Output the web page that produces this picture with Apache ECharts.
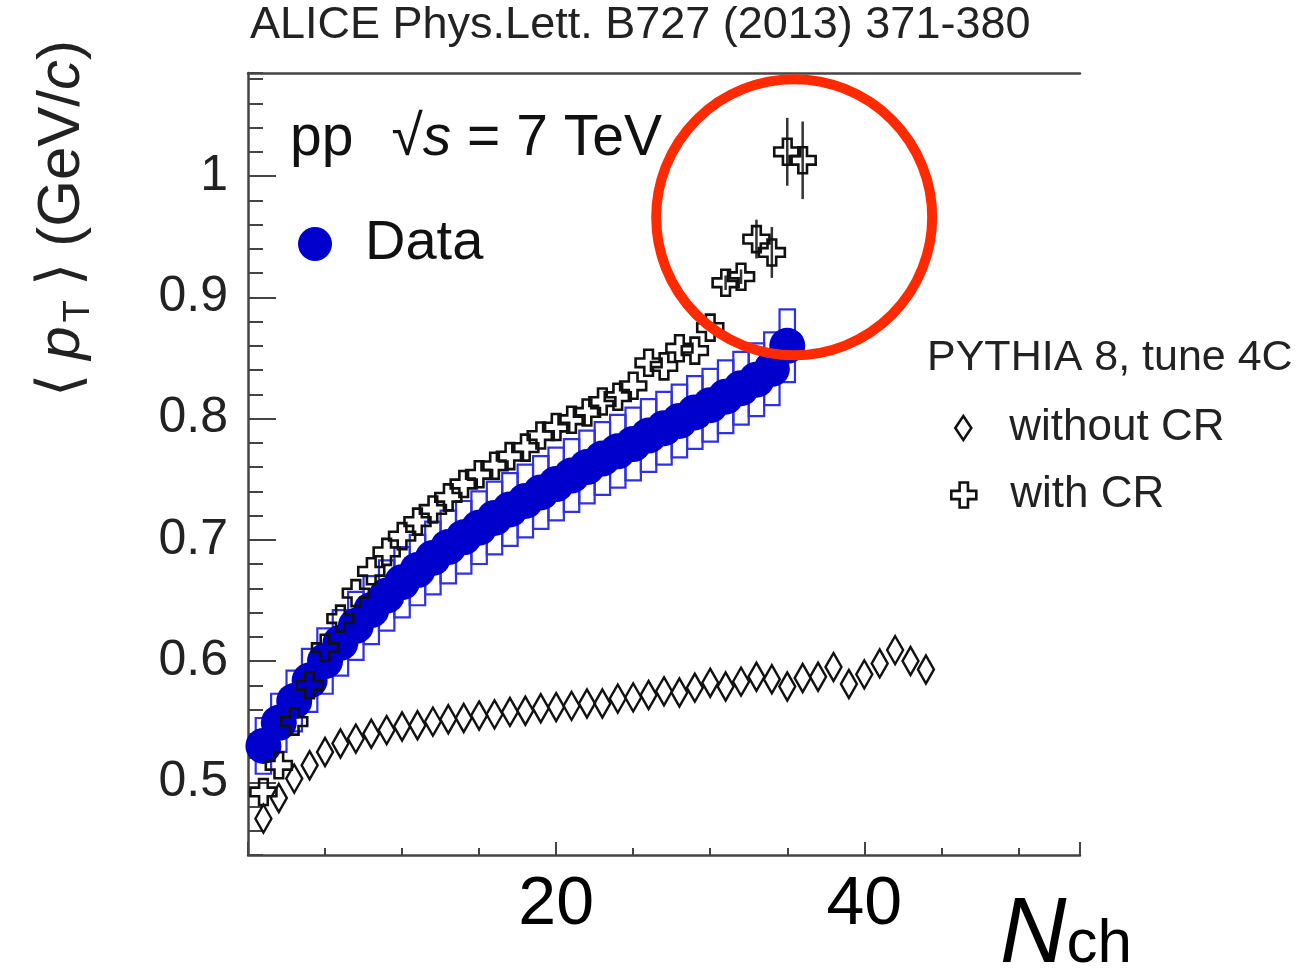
<!DOCTYPE html>
<html>
<head>
<meta charset="utf-8">
<script src="https://cdn.jsdelivr.net/npm/echarts@6/dist/echarts.min.js"></script>
<style>
html,body{margin:0;padding:0;background:#fff;}
#chart{width:1304px;height:975px;}
</style>
</head>
<body>
<div id="chart"></div>
<script>
// ---------------- data ----------------
const titleText = 'ALICE Phys.Lett. B727 (2013) 371-380';
const xTickLabels = [20, 40];

// ALICE data (blue dots) : Nch = 1..35
const dataNch = [1,2,3,4,5,6,7,8,9,10,11,12,13,14,15,16,17,18,19,20,21,22,23,24,25,26,27,28,29,30,31,32,33,34,35];
const dataMeanPt = [0.530,0.549,0.567,0.584,0.600,0.615,0.629,0.642,0.654,0.665,0.675,0.685,0.694,0.702,0.710,0.718,0.725,0.732,0.739,0.746,0.753,0.760,0.767,0.773,0.779,0.786,0.792,0.798,0.805,0.811,0.818,0.825,0.832,0.841,0.860];
const dataSys = [0.023,0.024,0.025,0.026,0.027,0.027,0.028,0.028,0.029,0.029,0.029,0.030,0.030,0.030,0.030,0.030,0.030,0.030,0.030,0.030,0.030,0.030,0.030,0.030,0.030,0.030,0.030,0.030,0.030,0.030,0.030,0.030,0.030,0.030,0.030];

// PYTHIA 8 tune 4C without colour reconnection (diamonds) : Nch = 1..44
const noCrNch = [1,2,3,4,5,6,7,8,9,10,11,12,13,14,15,16,17,18,19,20,21,22,23,24,25,26,27,28,29,30,31,32,33,34,35,36,37,38,39,40,41,42,43,44];
const noCrMeanPt = [0.470,0.487,0.503,0.514,0.525,0.532,0.536,0.540,0.543,0.546,0.547,0.550,0.552,0.553,0.555,0.556,0.558,0.559,0.561,0.562,0.563,0.565,0.565,0.569,0.570,0.572,0.575,0.574,0.578,0.582,0.579,0.583,0.587,0.585,0.579,0.586,0.587,0.595,0.581,0.589,0.598,0.609,0.600,0.593];

// PYTHIA 8 tune 4C with colour reconnection (crosses) : Nch = 1..36
const crNch = [1,2,3,4,5,6,7,8,9,10,11,12,13,14,15,16,17,18,19,20,21,22,23,24,25,26,27,28,29,30,31,32,33,34,35,36];
const crMeanPt = [0.492,0.514,0.550,0.580,0.611,0.635,0.656,0.674,0.690,0.703,0.715,0.725,0.735,0.746,0.754,0.761,0.769,0.776,0.786,0.793,0.799,0.805,0.814,0.818,0.827,0.846,0.843,0.858,0.856,0.875,0.912,0.917,0.948,0.937,1.020,1.013];
const crErr = [0,0,0,0,0,0,0,0,0,0,0,0,0,0,0,0,0,0,0,0,0,0,0,0,0,0,0,0,0,0,0.006,0.006,0.016,0.021,0.028,0.032];

// annotation (red hand-drawn circle) anchor in data coordinates
const circleCenter = [35.45, 0.966];

// ---------------- chart ----------------
const FONT = 'Liberation Sans, Arial, Helvetica, sans-serif';
const AX = '#444';
const chart = echarts.init(document.getElementById('chart'), null, {renderer: 'canvas'});

const crossPath = 'path://M8,0H16V8H24V16H16V24H8V16H0V8H8Z';
const hollow = {color: 'rgba(0,0,0,0)', borderColor: '#111', borderWidth: 2.6, opacity: 1};

const boxData = dataNch.map((n, i) => [n, dataMeanPt[i], dataSys[i]]);
const crErrData = crNch.map((n, i) => [n, crMeanPt[i], crErr[i]]).filter(d => d[2] > 0);

const option = {
  animation: false,
  backgroundColor: '#fff',
  textStyle: {fontFamily: FONT},
  title: {
    text: titleText, left: 250, top: 3, padding: 0,
    textStyle: {fontFamily: FONT, fontSize: 45, fontWeight: 'normal', color: '#222'}
  },
  grid: {left: 248, right: 224, top: 73, bottom: 120, containLabel: false},
  legend: [
    {
      data: [{name: 'Data', icon: 'circle', itemStyle: {color: '#0000cc', opacity: 1}}],
      left: 298, top: 214, padding: 0,
      itemWidth: 34, itemHeight: 34,
      textStyle: {fontFamily: FONT, fontSize: 56, color: '#111', lineHeight: 60, padding: [0, 0, 0, 28]}
    },
    {
      data: [{name: 'without CR', icon: 'diamond', itemStyle: hollow}],
      left: 954, top: 403, padding: 0,
      itemWidth: 16, itemHeight: 24,
      textStyle: {fontFamily: FONT, fontSize: 44, color: '#222', lineHeight: 50, padding: [0, 0, 0, 33]}
    },
    {
      data: [{name: 'with CR', icon: crossPath, itemStyle: hollow}],
      left: 950, top: 470, padding: 0,
      itemWidth: 25, itemHeight: 25,
      textStyle: {fontFamily: FONT, fontSize: 44, color: '#222', lineHeight: 50, padding: [0, 0, 0, 29]}
    }
  ],
  xAxis: [
    {
      type: 'value', min: 0, max: 54, interval: 20, position: 'bottom',
      axisLine: {show: true, lineStyle: {color: AX, width: 2.5}},
      axisTick: {show: true, inside: true, length: 13, lineStyle: {color: AX, width: 2}},
      axisLabel: {
        show: true, margin: 16, fontSize: 68, color: '#000', fontFamily: FONT,
        formatter: v => (xTickLabels.indexOf(v) >= 0 ? String(v) : '')
      },
      splitLine: {show: false}
    },
    {
      type: 'value', min: 0, max: 54, interval: 5, position: 'bottom',
      axisLine: {show: false},
      axisTick: {show: true, inside: true, length: 7, lineStyle: {color: AX, width: 2}},
      axisLabel: {show: false}, splitLine: {show: false}
    },
    {
      type: 'value', min: 0, max: 54, position: 'top',
      axisLine: {show: true, lineStyle: {color: AX, width: 2.5}},
      axisTick: {show: false}, axisLabel: {show: false}, splitLine: {show: false}
    }
  ],
  yAxis: [
    {
      type: 'value', min: 0.44, max: 1.085, splitNumber: 5, position: 'left',
      axisLine: {show: true, lineStyle: {color: AX, width: 2.5}},
      axisTick: {show: true, inside: true, length: 28, lineStyle: {color: AX, width: 2}},
      axisLabel: {show: true, margin: 20, fontSize: 50, color: '#222', fontFamily: FONT,
                  showMinLabel: false, showMaxLabel: false},
      splitLine: {show: false}
    },
    {
      type: 'value', min: 0.44, max: 1.085, interval: 0.02, position: 'left',
      axisLine: {show: false},
      axisTick: {show: true, inside: true, length: 15, lineStyle: {color: AX, width: 2}},
      axisLabel: {show: false}, splitLine: {show: false}
    }
  ],
  series: [
    {
      name: 'sys', type: 'custom', xAxisIndex: 0, yAxisIndex: 0, z: 2,
      data: boxData,
      renderItem: (params, api) => {
        const x = api.value(0), y = api.value(1), e = api.value(2);
        const p0 = api.coord([x - 0.5, y + e]);
        const p1 = api.coord([x + 0.5, y - e]);
        return {
          type: 'rect',
          shape: {x: p0[0], y: p0[1], width: p1[0] - p0[0], height: p1[1] - p0[1]},
          style: {fill: 'none', stroke: '#3030e6', lineWidth: 2.2}
        };
      }
    },
    {
      name: 'Data', type: 'scatter', xAxisIndex: 0, yAxisIndex: 0, z: 3,
      symbol: 'circle', symbolSize: 36,
      itemStyle: {color: '#0000cc', opacity: 1},
      data: dataNch.map((n, i) => [n, dataMeanPt[i]])
    },
    {
      name: 'without CR', type: 'scatter', xAxisIndex: 0, yAxisIndex: 0, z: 4,
      symbol: 'diamond', symbolSize: [16, 28],
      itemStyle: hollow,
      data: noCrNch.map((n, i) => [n, noCrMeanPt[i]])
    },
    {
      name: 'crErr', type: 'custom', xAxisIndex: 0, yAxisIndex: 0, z: 5,
      data: crErrData,
      renderItem: (params, api) => {
        const x = api.value(0), y = api.value(1), e = api.value(2);
        const a = api.coord([x, y + e]);
        const b = api.coord([x, y - e]);
        return {type: 'line', shape: {x1: a[0], y1: a[1], x2: b[0], y2: b[1]},
                style: {stroke: '#333', lineWidth: 2.5}};
      }
    },
    {
      name: 'with CR', type: 'scatter', xAxisIndex: 0, yAxisIndex: 0, z: 6,
      symbol: crossPath, symbolSize: 26,
      itemStyle: hollow,
      data: crNch.map((n, i) => [n, crMeanPt[i]])
    }
  ]
};
chart.setOption(option);

const cc = chart.convertToPixel({xAxisIndex: 0, yAxisIndex: 0}, circleCenter);

chart.setOption({
  graphic: [
    {
      type: 'text', id: 'ppText', left: 290, top: 141 - 30, z: 20,
      style: {
        text: '{n|pp}{g|}{r|√}{s|s}{n| = 7 TeV}',
        fill: '#111',
        rich: {
          n: {fontFamily: FONT, fontSize: 57, fill: '#111', lineHeight: 66},
          g: {width: 38, lineHeight: 66},
          r: {fontFamily: FONT, fontSize: 57, fill: '#111', lineHeight: 66},
          s: {fontFamily: FONT, fontSize: 57, fontStyle: 'italic', fill: '#111', lineHeight: 66}
        }
      }
    },
    {
      type: 'text', id: 'pythia', left: 927, top: 358 - 25, z: 20,
      style: {text: 'PYTHIA 8, tune 4C', fontFamily: FONT, fontSize: 43, fill: '#222', lineHeight: 50}
    },
    {
      type: 'text', id: 'ytitle', x: 62, y: 40, rotation: Math.PI / 2, z: 20,
      style: {
        text: '{a|⟨}{p|p}{t|T}{a|⟩ (GeV/}{c|c}{a|)}',
        align: 'right', verticalAlign: 'middle',
        rich: {
          a: {fontFamily: FONT, fontSize: 60, fill: '#222', lineHeight: 70, verticalAlign: 'middle'},
          p: {fontFamily: FONT, fontSize: 60, fontStyle: 'italic', fill: '#222', lineHeight: 70, verticalAlign: 'middle', padding: [0, 4, 0, 14]},
          t: {fontFamily: FONT, fontSize: 36, fill: '#222', lineHeight: 36, verticalAlign: 'bottom', padding: [0, 14, 0, 0]},
          c: {fontFamily: FONT, fontSize: 60, fontStyle: 'italic', fill: '#222', lineHeight: 70, verticalAlign: 'middle'}
        }
      }
    },
    {
      type: 'text', id: 'nch', x: 1000, y: 982, z: 20,
      style: {
        text: '{n|N}{s|ch}', verticalAlign: 'bottom',
        rich: {
          n: {fontFamily: FONT, fontSize: 92, fontStyle: 'italic', fill: '#000', lineHeight: 92, verticalAlign: 'bottom'},
          s: {fontFamily: FONT, fontSize: 62, fill: '#000', lineHeight: 62, verticalAlign: 'bottom', padding: [0, 0, 6, 0]}
        }
      }
    },
    {
      type: 'circle', id: 'redCircle', z: 30,
      shape: {cx: cc[0], cy: cc[1], r: 138},
      style: {fill: 'none', stroke: '#ff2a00', lineWidth: 10}
    }
  ]
});
</script>
</body>
</html>
